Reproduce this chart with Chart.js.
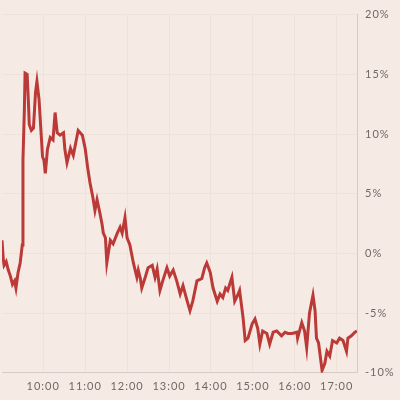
<!DOCTYPE html>
<html>
<head>
<meta charset="utf-8">
<script src="https://cdn.jsdelivr.net/npm/chart.js@4/dist/chart.umd.min.js"></script>
<style>
  html, body { margin: 0; padding: 0; background: #f6eae4; }
  #wrap { width: 400px; height: 400px; }
</style>
</head>
<body>
<div id="wrap"><canvas id="chart"></canvas></div>
<script>
// intraday price change, % vs previous close
const times = [
  '9:01', '9:03', '9:04', '9:07', '9:10', '9:13', '9:16', '9:19', '9:21', '9:24',
  '9:27', '9:30', '9:31', '9:33', '9:34', '9:37', '9:39', '9:40', '9:43', '9:46',
  '9:49', '9:51', '9:54', '9:59', '10:01', '10:03', '10:06', '10:10', '10:14', '10:17',
  '10:20', '10:24', '10:29', '10:31', '10:34', '10:39', '10:43', '10:46', '10:50', '10:56',
  '11:00', '11:04', '11:07', '11:11', '11:14', '11:17', '11:21', '11:24', '11:26', '11:29',
  '11:31', '11:36', '11:40', '11:46', '11:50', '11:53', '11:57', '12:00', '12:04', '12:09',
  '12:14', '12:16', '12:19', '12:21', '12:26', '12:30', '12:36', '12:40', '12:43', '12:47',
  '12:51', '12:57', '13:01', '13:06', '13:11', '13:16', '13:20', '13:26', '13:30', '13:34',
  '13:40', '13:47', '13:51', '13:54', '13:59', '14:03', '14:09', '14:13', '14:17', '14:21',
  '14:24', '14:30', '14:34', '14:39', '14:41', '14:46', '14:49', '14:53', '14:59', '15:03',
  '15:07', '15:10', '15:14', '15:20', '15:24', '15:29', '15:34', '15:41', '15:46', '15:50',
  '15:56', '16:03', '16:04', '16:10', '16:14', '16:17', '16:21', '16:26', '16:29', '16:31',
  '16:34', '16:39', '16:43', '16:46', '16:50', '16:54', '17:00', '17:04', '17:09', '17:14',
  '17:16', '17:21', '17:26', '17:29'
];
const changes = [
  1.1, -0.6, -1.0, -0.7, -1.4, -1.9, -2.6, -2.3, -2.9, -1.6,
  -0.8, 0.7, 7.8, 12.0, 15.1, 15.0, 12.4, 10.8, 10.3, 10.5,
  13.5, 14.4, 12.9, 8.1, 7.8, 6.7, 8.7, 9.7, 9.5, 11.8,
  10.1, 9.9, 10.1, 8.7, 7.6, 8.8, 8.2, 9.1, 10.3, 9.9,
  8.8, 7.0, 5.9, 4.7, 3.6, 4.5, 3.4, 2.5, 1.7, 1.3,
  -0.8, 1.1, 0.8, 1.7, 2.2, 1.7, 3.0, 1.3, 0.7, -0.8,
  -2.0, -1.4, -2.1, -2.9, -2.0, -1.2, -1.0, -2.0, -1.3, -3.1,
  -2.3, -1.2, -1.9, -1.4, -2.3, -3.4, -2.7, -4.0, -4.8, -4.0,
  -2.3, -2.1, -1.2, -0.8, -1.6, -2.9, -4.0, -3.4, -3.7, -2.9,
  -3.1, -2.0, -4.0, -3.4, -3.1, -5.4, -7.3, -7.1, -5.9, -5.5,
  -6.3, -7.6, -6.5, -6.7, -7.6, -6.6, -6.5, -6.9, -6.6, -6.7,
  -6.7, -6.6, -7.1, -5.8, -6.5, -7.9, -5.0, -3.5, -4.8, -7.1,
  -7.5, -9.8, -9.2, -8.2, -8.6, -7.3, -7.5, -7.1, -7.3, -8.2,
  -7.1, -6.9, -6.6, -6.5
];
const hourTicks = ['10:00', '11:00', '12:00', '13:00', '14:00', '15:00', '16:00', '17:00'];
const pctTicks = [20, 15, 10, 5, 0, -5, -10];

const toMin = (t) => {
  const [h, m] = t.split(':').map(Number);
  return h * 60 + m;
};
const fmt = (v) => Math.floor(v / 60) + ':' + String(v % 60).padStart(2, '0');

const points = times.map((t, i) => ({ x: toMin(t), y: changes[i] }));

const spacing = {
  id: 'spacing',
  beforeDraw(chart) {
    chart.ctx.letterSpacing = '1px';
  },
  beforeLayout(chart) {
    chart.ctx.letterSpacing = '1px';
  },
};

const ctx = document.getElementById('chart').getContext('2d');
new Chart(ctx, {
  type: 'line',
  data: {
    datasets: [{
      data: points,
      borderColor: '#bb3a38',
      borderWidth: 3,
      pointRadius: 0,
      tension: 0,
      fill: false,
    }],
  },
  options: {
    responsive: true,
    maintainAspectRatio: false,
    animation: false,
    layout: { padding: { left: 2, right: 0, top: 10, bottom: 0 } },
    plugins: { legend: { display: false }, tooltip: { enabled: false } },
    scales: {
      x: {
        type: 'linear',
        min: 541,
        max: 1049,
        afterBuildTicks: (axis) => {
          axis.ticks = hourTicks.map((t) => ({ value: toMin(t) }));
        },
        ticks: {
          callback: (v) => fmt(v),
          color: '#6f6866',
          font: { family: 'Lato', size: 11 },
          padding: 7,
          maxRotation: 0,
        },
        grid: { color: '#efe2d9', drawTicks: false },
        border: { color: '#d6cbc6' },
      },
      y: {
        position: 'right',
        min: -10,
        max: 20,
        afterBuildTicks: (axis) => {
          axis.ticks = pctTicks.map((v) => ({ value: v }));
        },
        afterFit: (axis) => {
          axis.width = 43;
        },
        ticks: {
          callback: (v) => v + '%',
          color: '#6f6866',
          font: { family: 'Lato', size: 11 },
          padding: 8,
        },
        grid: { color: '#efe2d9', drawTicks: false },
        border: { color: '#d6cbc6' },
      },
    },
  },
  plugins: [spacing],
});
</script>
</body>
</html>
